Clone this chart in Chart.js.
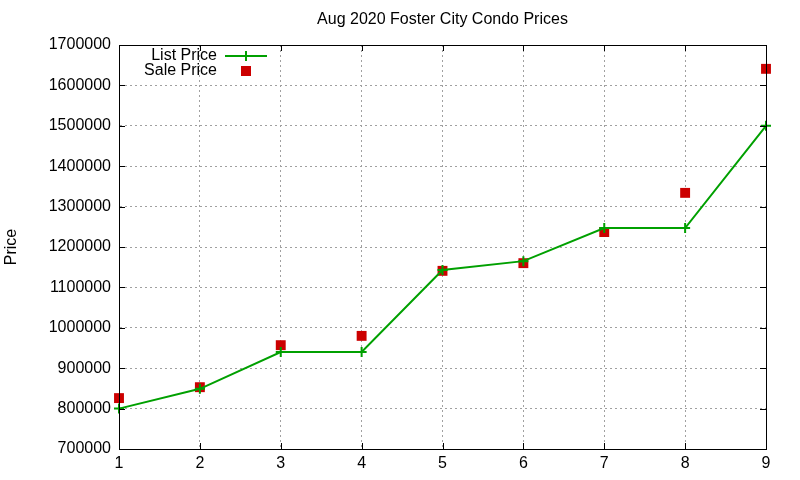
<!DOCTYPE html>
<html>
<head>
<meta charset="utf-8">
<script src="https://cdn.jsdelivr.net/npm/chart.js"></script>
<style>
  body { margin: 0; background: #fff; }
  canvas { display: block; }
</style>
</head>
<body>
<canvas id="priceChart" width="800" height="480"></canvas>
<script>
// Aug 2020 Foster City condo prices
const houses = [1, 2, 3, 4, 5, 6, 7, 8, 9];
const listPrice = [800000, 849000, 940000, 940000, 1143000, 1165000, 1247000, 1247000, 1500000];
const salePrice = [826000, 853000, 957000, 980000, 1141000, 1160000, 1237000, 1334000, 1641000];
const yTicks = [700000, 800000, 900000, 1000000, 1100000, 1200000, 1300000, 1400000, 1500000, 1600000, 1700000];

const FONT = 'Liberation Sans, Arial, sans-serif';
const GREEN = '#00a000';
const RED = '#cc0000';

// gnuplot style frame, inward ticks, title and legend
const gnuplotFrame = {
  id: 'gnuplotFrame',
  afterDraw(chart) {
    const { ctx, chartArea: a, scales } = chart;
    ctx.save();
    ctx.strokeStyle = '#000';
    ctx.lineWidth = 1;
    ctx.beginPath();
    houses.forEach(v => {
      const x = Math.round(scales.x.getPixelForValue(v)) + 0.5;
      ctx.moveTo(x, a.bottom); ctx.lineTo(x, a.bottom - 6);
      ctx.moveTo(x, a.top); ctx.lineTo(x, a.top + 6);
    });
    yTicks.forEach(v => {
      const y = Math.round(scales.y.getPixelForValue(v)) + 0.5;
      ctx.moveTo(a.left, y); ctx.lineTo(a.left + 6, y);
      ctx.moveTo(a.right, y); ctx.lineTo(a.right - 6, y);
    });
    ctx.stroke();
    ctx.strokeRect(Math.round(a.left) + 0.5, Math.round(a.top) + 0.5,
      Math.round(a.right - a.left), Math.round(a.bottom - a.top));

    ctx.fillStyle = '#000';
    ctx.font = '16px ' + FONT;
    ctx.textAlign = 'center';
    ctx.textBaseline = 'middle';
    ctx.fillText('Aug 2020 Foster City Condo Prices', (a.left + a.right) / 2, 20);

    ctx.save();
    ctx.translate(12, (a.top + a.bottom) / 2);
    ctx.rotate(-Math.PI / 2);
    ctx.font = '16px ' + FONT;
    ctx.fillText('Price', 0, 0);
    ctx.restore();

    // legend
    ctx.font = '16px ' + FONT;
    ctx.textAlign = 'right';
    ctx.fillText('List Price', 217, 56);
    ctx.fillText('Sale Price', 217, 71);
    ctx.strokeStyle = GREEN;
    ctx.lineWidth = 2;
    ctx.beginPath();
    ctx.moveTo(225, 56); ctx.lineTo(267, 56);
    ctx.moveTo(246, 51); ctx.lineTo(246, 61);
    ctx.stroke();
    ctx.fillStyle = RED;
    ctx.fillRect(241, 66, 10, 10);
    ctx.restore();
  }
};

new Chart(document.getElementById('priceChart'), {
  type: 'line',
  data: {
    labels: houses,
    datasets: [
      {
        label: 'List Price',
        data: listPrice,
        borderColor: GREEN,
        backgroundColor: GREEN,
        borderWidth: 2,
        pointStyle: 'cross',
        pointRadius: 5,
        pointBorderWidth: 2,
        tension: 0,
        clip: false
      },
      {
        label: 'Sale Price',
        data: salePrice,
        showLine: false,
        borderColor: RED,
        backgroundColor: RED,
        pointStyle: 'rect',
        pointRadius: 7,
        pointBorderWidth: 0,
        clip: false
      }
    ]
  },
  options: {
    responsive: false,
    animation: false,
    devicePixelRatio: 1,
    layout: { padding: { left: 0, top: 45, right: 34, bottom: 0 } },
    plugins: {
      legend: { display: false },
      title: { display: false },
      tooltip: { enabled: false }
    },
    scales: {
      x: {
        type: 'linear',
        min: 1,
        max: 9,
        afterFit: s => { s.height = 31; },
        afterBuildTicks: s => { s.ticks = houses.map(v => ({ value: v })); },
        grid: { color: '#a0a0a0', drawTicks: false },
        border: { display: true, color: '#000', dash: [2, 3] },
        ticks: { color: '#000', font: { family: FONT, size: 16 }, padding: 5, maxRotation: 0 }
      },
      y: {
        min: 700000,
        max: 1700000,
        afterFit: s => { s.width = 119; },
        afterBuildTicks: s => { s.ticks = yTicks.map(v => ({ value: v })); },
        grid: { color: '#a0a0a0', drawTicks: false },
        border: { display: true, color: '#000', dash: [2, 3] },
        ticks: {
          color: '#000',
          font: { family: FONT, size: 16 },
          padding: 8,
          callback: v => String(v)
        }
      }
    }
  },
  plugins: [gnuplotFrame]
});
</script>
</body>
</html>
